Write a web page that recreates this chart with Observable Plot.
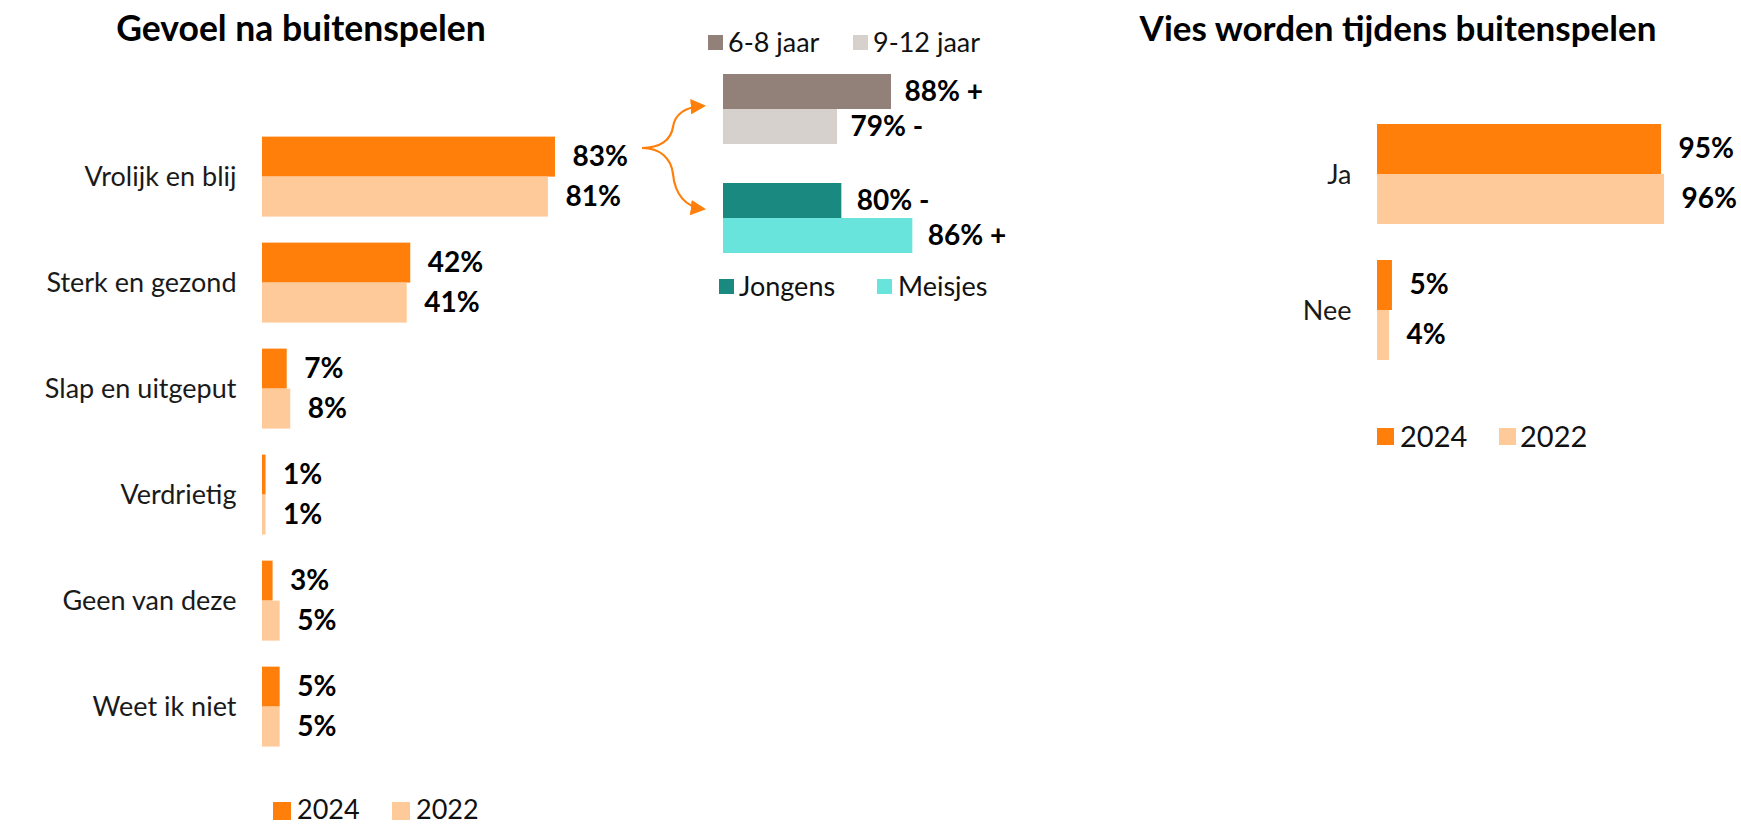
<!DOCTYPE html>
<html><head><meta charset="utf-8">
<script src="https://cdn.jsdelivr.net/npm/d3@7"></script>
<script src="https://cdn.jsdelivr.net/npm/@observablehq/plot@0.6"></script>
<style>
html,body{margin:0;background:#fff;font-family:Lato,sans-serif;overflow:hidden;}
#root{position:relative;width:1741px;height:826px;overflow:hidden;background:#fff;}
#root svg{position:absolute;}
.title{position:absolute;font-weight:bold;white-space:nowrap;transform:translate(-50%,-50%);color:#000;font-family:Lato,sans-serif;}
.lt{position:absolute;white-space:nowrap;color:#111;font-family:Lato,sans-serif;}
.sw{position:absolute;}
</style></head><body><div id="root"></div><script>
// ---- data ----
const categories = ["Vrolijk en blij","Sterk en gezond","Slap en uitgeput","Verdrietig","Geen van deze","Weet ik niet"];
const values2024 = [83,42,7,1,3,5];
const values2022 = [81,41,8,1,5,5];
const yearLabels = ["2024","2022"];
const ageGroups = ["6-8 jaar","9-12 jaar"];
const ageValues = [88,79];
const ageSigns = ["+","-"];
const genderGroups = ["Jongens","Meisjes"];
const genderValues = [80,86];
const genderSigns = ["-","+"];
const viesCategories = ["Ja","Nee"];
const vies2024 = [95,5];
const vies2022 = [96,4];
const titles = ["Gevoel na buitenspelen","Vies worden tijdens buitenspelen"];

// ---- colours ----
const ORANGE = "#FF7F0A", LIGHT = "#FFCA99";
const AGE_COL = ["#918178","#D6D1CD"];
const GEN_COL = ["#1A8A80","#68E4DC"];

const root = document.getElementById("root");
const baseStyle = {background:"transparent", fontFamily:"Lato, sans-serif", fontSize:"27px", color:"#1a1a1a", overflow:"visible"};
function place(svg, left, top){ svg.style.left = left+"px"; svg.style.top = top+"px"; root.appendChild(svg); }

// ---- left chart ----
const feel = categories.flatMap((c,i)=>[{cat:c,year:yearLabels[0],v:values2024[i]},{cat:c,year:yearLabels[1],v:values2022[i]}]);
const leftPlot = Plot.plot({
  width:700, height:790, marginTop:135.4, marginBottom:42.6, marginLeft:262, marginRight:85,
  style:baseStyle,
  facet:{data:feel, y:"cat"},
  x:{domain:[0,100], axis:null},
  y:{domain:yearLabels, padding:0, axis:null},
  fy:{domain:categories, paddingInner:0.248, paddingOuter:0, label:null, tickSize:0, tickPadding:26, axis:"left"},
  color:{domain:yearLabels, range:[ORANGE, LIGHT]},
  marks:[
    Plot.barX(feel,{x:"v", y:"year", fill:"year"}),
    Plot.text(feel,{x:"v", y:"year", text:d=>d.v+"%", textAnchor:"start", dx:17, fontWeight:"bold", fontSize:28, fill:"#000"})
  ]
});
place(leftPlot, 0, 0);

// ---- inset: age ----
const age = ageGroups.map((g,i)=>({g, v:ageValues[i], s:ageSigns[i]}));
const agePlot = Plot.plot({
  width:400, height:150, marginTop:73, marginBottom:6, marginLeft:83, marginRight:77,
  style:baseStyle,
  x:{domain:[60,100], axis:null},
  y:{domain:ageGroups, padding:0, axis:null},
  color:{domain:ageGroups, range:AGE_COL},
  marks:[
    Plot.barX(age,{x1:()=>60, x2:"v", y:"g", fill:"g"}),
    Plot.text(age,{x:"v", y:"g", text:d=>d.v+"% "+d.s, textAnchor:"start", dx:13, fontWeight:"bold", fontSize:28, fill:"#000"})
  ]
});
place(agePlot, 640, 0);

// ---- inset: gender ----
const gen = genderGroups.map((g,i)=>({g, v:genderValues[i], s:genderSigns[i]}));
const genPlot = Plot.plot({
  width:480, height:260, marginTop:182, marginBottom:7, marginLeft:83, marginRight:42,
  style:baseStyle,
  x:{domain:[70,100], axis:null},
  y:{domain:genderGroups, padding:0, axis:null},
  color:{domain:genderGroups, range:GEN_COL},
  marks:[
    Plot.barX(gen,{x1:()=>70, x2:"v", y:"g", fill:"g"}),
    Plot.text(gen,{x:"v", y:"g", text:d=>d.v+"% "+d.s, textAnchor:"start", dx:15, fontWeight:"bold", fontSize:28, fill:"#000"})
  ]
});
place(genPlot, 640, 0);

// ---- right chart ----
const vies = viesCategories.flatMap((c,i)=>[{cat:c,year:yearLabels[0],v:vies2024[i]},{cat:c,year:yearLabels[1],v:vies2022[i]}]);
const rightPlot = Plot.plot({
  width:641, height:410, marginTop:124, marginBottom:48.4, marginLeft:277, marginRight:65,
  style:baseStyle,
  facet:{data:vies, y:"cat"},
  x:{domain:[0,100], axis:null},
  y:{domain:yearLabels, padding:0, axis:null},
  fy:{domain:viesCategories, paddingInner:0.26, paddingOuter:0, label:null, tickSize:0, tickPadding:26, axis:"left"},
  color:{domain:yearLabels, range:[ORANGE, LIGHT]},
  marks:[
    Plot.barX(vies,{x:"v", y:"year", fill:"year"}),
    Plot.text(vies,{x:"v", y:"year", text:d=>d.v+"%", textAnchor:"start", dx:17, fontWeight:"bold", fontSize:28, fill:"#000"})
  ]
});
place(rightPlot, 1100, 0);

// ---- titles ----
function title(text, cx, cy, size){
  const d = document.createElement("div"); d.className="title"; d.textContent=text;
  d.style.left=cx+"px"; d.style.top=cy+"px"; d.style.fontSize=size+"px"; root.appendChild(d);
}
title(titles[0], 301, 27, 35.5);
title(titles[1], 1398, 27, 35);

// ---- legends (swatch x, text x per item) ----
function legend(items, colors, sx, tx, cy, ty, sw, size){
  items.forEach((t,i)=>{
    const s=document.createElement("div"); s.className="sw";
    s.style.left=sx[i]+"px"; s.style.top=(cy-sw/2)+"px"; s.style.width=sw+"px"; s.style.height=sw+"px"; s.style.background=colors[i];
    root.appendChild(s);
    const l=document.createElement("div"); l.className="lt"; l.textContent=t;
    l.style.left=tx[i]+"px"; l.style.fontSize=size+"px"; l.style.lineHeight=size+"px"; l.style.top=(ty-0.527*size)+"px";
    root.appendChild(l);
  });
}
legend(yearLabels,[ORANGE,LIGHT],[273,392],[297,416],811,809,18,27);
legend(yearLabels,[ORANGE,LIGHT],[1377,1499],[1400,1520],436,436,17,29);
legend(ageGroups,AGE_COL,[708,853],[728,873],42,42,15,27);
legend(genderGroups,GEN_COL,[719,877],[739,898],286,286,15,27);

// ---- orange brace arrows (annotation) ----
const ns="http://www.w3.org/2000/svg";
const a=document.createElementNS(ns,"svg");
a.setAttribute("width","1741"); a.setAttribute("height","826"); a.style.left="0px"; a.style.top="0px";
a.innerHTML = `<defs><marker id="ah" viewBox="0 0 10 10" refX="8" refY="5" markerWidth="7" markerHeight="7" orient="auto"><path d="M0,0 L10,5 L0,10 z" fill="${ORANGE}"/></marker></defs>
<path d="M642,148 C660,148 671,140 673,127 C675,113 686,107 703,106" fill="none" stroke="${ORANGE}" stroke-width="2.2" marker-end="url(#ah)"/>
<path d="M642,148 C660,148 671,158 673,174 C675,195 686,207 703,209" fill="none" stroke="${ORANGE}" stroke-width="2.2" marker-end="url(#ah)"/>`;
root.appendChild(a);
</script></body></html>
